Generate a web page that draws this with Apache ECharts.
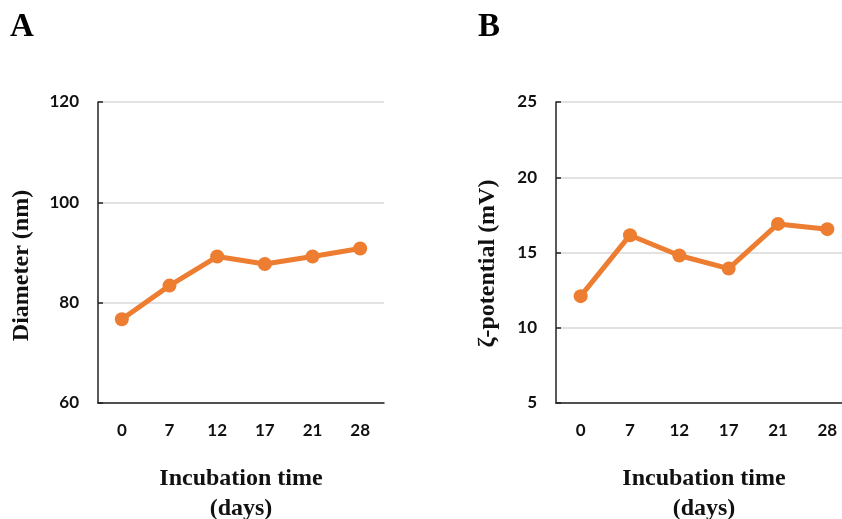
<!DOCTYPE html>
<html>
<head>
<meta charset="utf-8">
<script src="https://cdn.jsdelivr.net/npm/echarts@6/dist/echarts.min.js"></script>
<style>
html,body{margin:0;padding:0;background:#fff;}
#c{width:842px;height:519px;}
</style>
</head>
<body>
<div id="c"></div>
<script>
const categories = ['0', '7', '12', '17', '21', '28'];
const diameterValues = [76.7, 83.4, 89.2, 87.7, 89.2, 90.8];
const zetaValues = [12.1, 16.15, 14.8, 13.93, 16.9, 16.55];
const yTicksA = [60, 120, 20];
const yTicksB = [5, 25, 5];

const orange = '#ED7D31';
const tickFont = {fontFamily: 'Lato', fontWeight: 'bold', fontSize: 17, color: '#111'};
const nameFont = {fontFamily: 'Liberation Serif', fontWeight: 'bold', fontSize: 24, color: '#111'};

function xAxis(idx) {
  return {
    gridIndex: idx, type: 'category', data: categories, boundaryGap: true,
    axisLine: {lineStyle: {color: '#222', width: 1.5}},
    axisTick: {show: false},
    axisLabel: Object.assign({margin: 19}, tickFont),
    name: 'Incubation time\n(days)', nameLocation: 'middle', nameGap: 61,
    nameTextStyle: Object.assign({lineHeight: 30}, nameFont)
  };
}
function yAxis(idx, t, name, gap, shift) {
  return {
    gridIndex: idx, type: 'value', min: t[0], max: t[1], interval: t[2],
    axisLine: {show: true, lineStyle: {color: '#222', width: 1.5}},
    axisTick: {show: true, inside: true, length: 5, lineStyle: {color: '#222', width: 1.5}},
    splitLine: {lineStyle: {color: '#d9d9d9', width: 1.5}},
    axisLabel: Object.assign({margin: 19}, tickFont),
    name: name, nameLocation: 'middle', nameGap: gap, nameRotate: 90,
    nameTextStyle: Object.assign({padding: [0, shift, 0, 0]}, nameFont)
  };
}
function series(idx, data) {
  return {
    type: 'line', xAxisIndex: idx, yAxisIndex: idx, data: data,
    symbol: 'circle', symbolSize: 14,
    lineStyle: {color: orange, width: 5},
    itemStyle: {color: orange},
    animation: false
  };
}

const chart = echarts.init(document.getElementById('c'), null, {renderer: 'canvas'});
chart.setOption({
  animation: false,
  grid: [
    {left: 98, top: 102, width: 286, height: 301, containLabel: false, outerBoundsMode: 'none'},
    {left: 556, top: 102, width: 296, height: 301, containLabel: false, outerBoundsMode: 'none'}
  ],
  xAxis: [xAxis(0), xAxis(1)],
  yAxis: [yAxis(0, yTicksA, 'Diameter (nm)', 64, 26), yAxis(1, yTicksB, 'ζ-potential (mV)', 56, 22)],
  series: [series(0, diameterValues), series(1, zetaValues)],
  graphic: [
    {type: 'text', left: 10, top: 11, style: {text: 'A', font: 'bold 33px "Liberation Serif"', fill: '#000'}},
    {type: 'text', left: 478, top: 11, style: {text: 'B', font: 'bold 33px "Liberation Serif"', fill: '#000'}}
  ]
});
</script>
</body>
</html>
